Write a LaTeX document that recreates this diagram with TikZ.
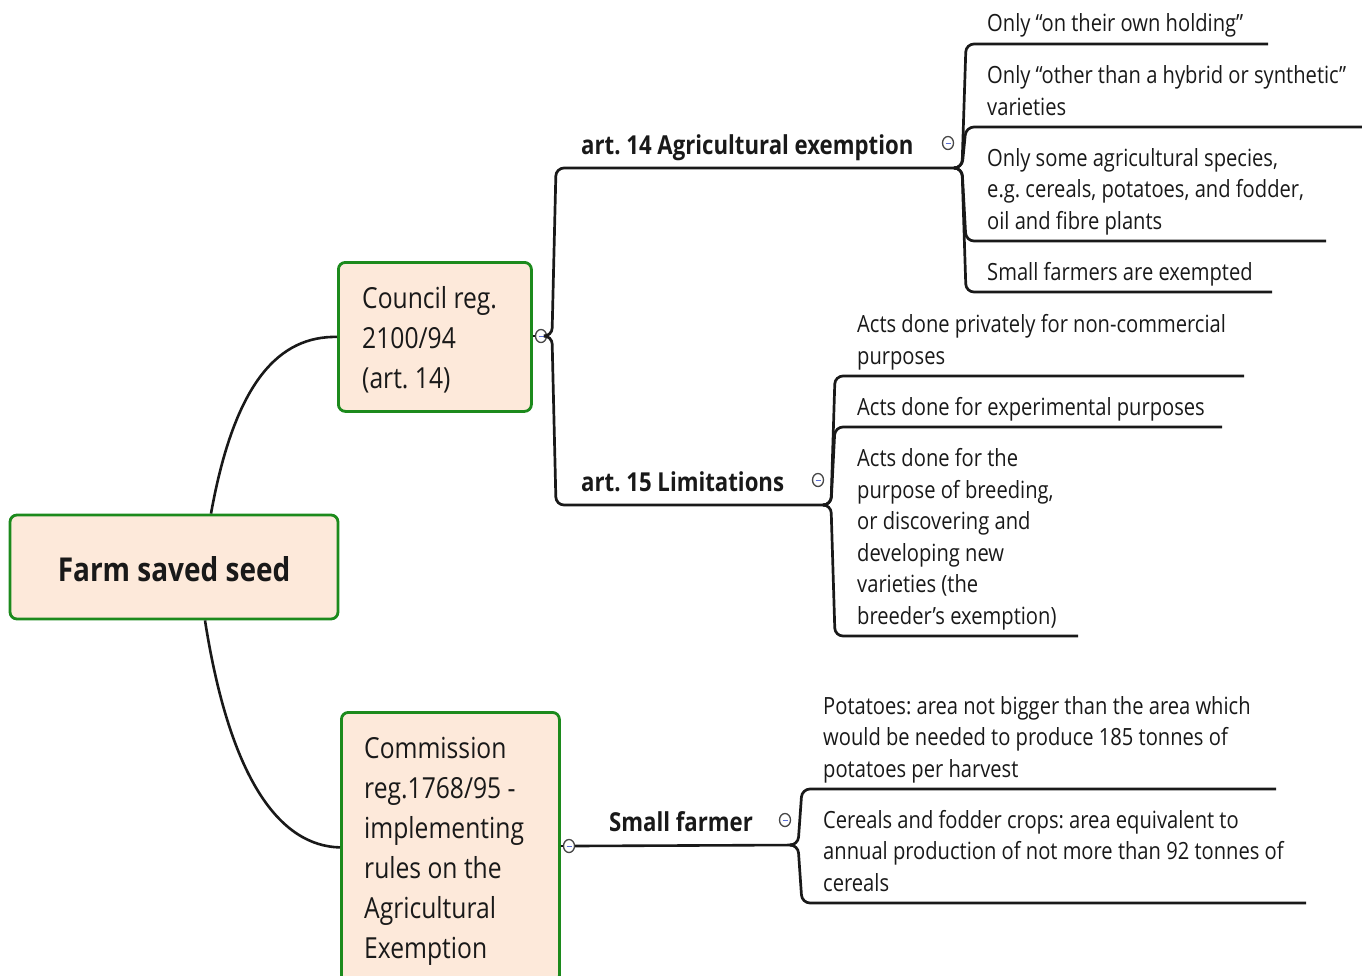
\documentclass[tikz,border=0pt]{standalone}
\usepackage{fontspec}
\usetikzlibrary{shapes.geometric}
\setmainfont{Open Sans}[FakeStretch=0.85]
\frenchspacing
\definecolor{boxfill}{RGB}{253,233,218}
\definecolor{boxline}{RGB}{28,138,28}
\definecolor{knobline}{RGB}{70,70,70}
\definecolor{knobminus}{RGB}{90,110,210}
\definecolor{ink}{RGB}{25,25,25}
\newcommand\leadstrut{\rule{0pt}{0.85em}}
\tikzset{
  box/.style={draw=boxline, line width=2.8pt, fill=boxfill, rounded corners=7pt, inner sep=0pt},
  conn/.style={line width=2.6pt, draw=ink},
  bracket/.style={line width=2.7pt, draw=ink, rounded corners=8pt},
  leaf/.style={font=\fontsize{23.7}{31.5}\selectfont, text=ink, align=left, inner sep=0pt, anchor=north west, yshift=20.15pt},
  boxtxt/.style={font=\fontsize{29}{40}\selectfont, text=ink, align=left, inner sep=0pt, anchor=north west, yshift=24.65pt},
  head/.style={font=\fontsize{26.1}{30}\selectfont\bfseries, text=ink, inner sep=0pt, anchor=base west},
  knob/.style={ellipse, draw=knobline, fill=white, line width=1.3pt, minimum width=11pt, minimum height=13pt, inner sep=0pt,
    path picture={\draw[knobminus, line width=0.9pt] ([xshift=-2.5pt]path picture bounding box.center) -- ([xshift=2.5pt]path picture bounding box.center);}}
}
\begin{document}
\begin{tikzpicture}[x=1pt, y=-1pt]
\useasboundingbox (0,0) rectangle (1362,975);
% boxes
\node[box, minimum width=328pt, minimum height=104pt, font=\fontsize{32.9}{38}\selectfont\bfseries, text=ink, text height=29.6pt, text depth=0pt] (root) at (174,567) {Farm saved seed};
\node[box, minimum width=193pt, minimum height=149pt, anchor=north west] (council) at (337,261) {};
\node[boxtxt] (counciltxt) at (362,308) {\leadstrut Council reg.\\2100/94\\(art. 14)};
\node[box, minimum width=218pt, minimum height=270pt, anchor=north west] (comm) at (340,711) {};
\node[boxtxt] (commtxt) at (364,758.3) {\leadstrut Commission\\reg.1768/95 -\\implementing\\rules on the\\Agricultural\\Exemption};
% root connectors
\draw[conn] ([xshift=37pt]root.north) .. controls (235,380) and (280,336) .. (council.west);
\draw[conn] ([xshift=31pt]root.south) .. controls (230,780) and (280,846) .. (comm.west);
% knobs
\node[knob] (k1) at (541,336) {};
\node[knob] (k4) at (569,846) {};
\draw[conn] (council.east |- k1) -- (k1.west);
\draw[conn] (comm.east |- k4) -- (k4.west);
% headers
\node[head] (h14) at (581,154) {art. 14 Agricultural exemption};
\node[head] (h15) at (581,491) {art. 15 Limitations};
\node[head] (hsf) at (609,831) {Small farmer};
\node[knob] (k14) at (948,143) {};
\node[knob] (k15) at (818,480) {};
\node[knob] (ksf) at (785,820) {};
\coordinate (a14) at (957,168);
\coordinate (a15) at (827,505);
\coordinate (asf) at (795,845);
\draw[bracket] (k1.east) -- (552,336) -- (556,168) -- (a14);
\draw[bracket] (k1.east) -- (552,336) -- (556,505) -- (a15);
\draw[conn] (k4.east) -- (asf);
% art 14 leaves
\node[leaf] (l1) at (987,31.5) {\leadstrut Only “on their own holding”};
\node[leaf] (l2) at (987,83.5) {\leadstrut Only “other than a hybrid or synthetic”\\varieties};
\node[leaf] (l3) at (987,166) {\leadstrut Only some agricultural species,\\e.g. cereals, potatoes, and fodder,\\oil and fibre plants};
\node[leaf] (l4) at (987,280) {\leadstrut Small farmers are exempted};
\coordinate (e1) at (1268,44);
\coordinate (e2) at (1362,127);
\coordinate (e3) at (1326,241);
\coordinate (e4) at (1272,292);
\foreach \e in {e1,e2,e3,e4}
  \draw[bracket] (a14) -- (962,168) -- (966,0 |- \e) -- (\e);
% art 15 leaves
\node[leaf] (m1) at (857,332.5) {\leadstrut Acts done privately for non-commercial\\purposes};
\node[leaf] (m2) at (857,415) {\leadstrut Acts done for experimental purposes};
\node[leaf] (m3) at (857,466.5) {\leadstrut Acts done for the\\purpose of breeding,\\or discovering and\\developing new\\varieties (the\\breeder’s exemption)};
\coordinate (f1) at (1244,376);
\coordinate (f2) at (1222,427);
\coordinate (f3) at (1078,636);
\foreach \e in {f1,f2,f3}
  \draw[bracket] (a15) -- (831,505) -- (835,0 |- \e) -- (\e);
% small farmer leaves
\node[leaf] (s1) at (823,714) {\leadstrut Potatoes: area not bigger than the area which\\would be needed to produce 185 tonnes of\\potatoes per harvest};
\node[leaf] (s2) at (823,828) {\leadstrut Cereals and fodder crops: area equivalent to\\annual production of not more than 92 tonnes of\\cereals};
\coordinate (g1) at (1276,789);
\coordinate (g2) at (1306,903);
\foreach \e in {g1,g2}
  \draw[bracket] (asf) -- (798,845) -- (802,0 |- \e) -- (\e);
\end{tikzpicture}
\end{document}
